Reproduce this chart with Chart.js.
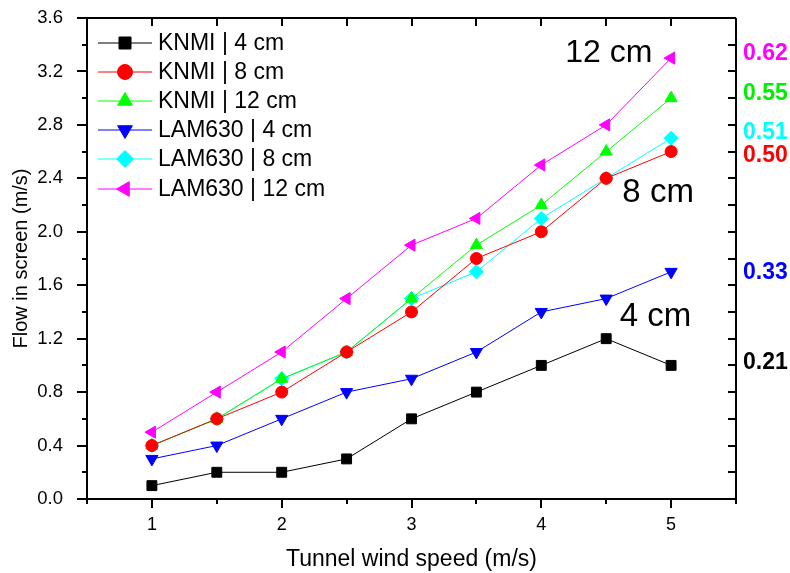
<!DOCTYPE html>
<html>
<head>
<meta charset="utf-8">
<script src="https://cdn.jsdelivr.net/npm/chart.js@4/dist/chart.umd.min.js"></script>
<style>
  body { margin: 0; background: #fff; }
  #wrap { width: 790px; height: 573px; }
</style>
</head>
<body>
<div id="wrap"><canvas id="chart" width="790" height="573"></canvas></div>
<script>
"use strict";

// wind speed in the tunnel (m/s)
const windSpeed = [1, 1.5, 2, 2.5, 3, 3.5, 4, 4.5, 5];

// flow in screen (m/s) per sensor / height
const knmi4 = [0.1, 0.2, 0.2, 0.3, 0.6, 0.8, 1.0, 1.2, 1.0];
const knmi8 = [0.4, 0.6, 0.8, 1.1, 1.4, 1.8, 2.0, 2.4, 2.6];
const knmi12 = [0.4, 0.6, 0.9, 1.1, 1.5, 1.9, 2.2, 2.6, 3.0];
const lam4 = [0.3, 0.4, 0.6, 0.8, 0.9, 1.1, 1.4, 1.5, 1.7];
const lam8 = [0.4, 0.6, 0.9, 1.1, 1.5, 1.7, 2.1, 2.4, 2.7];
const lam12 = [0.5, 0.8, 1.1, 1.5, 1.9, 2.1, 2.5, 2.8, 3.3];

const seriesNames = ["KNMI | 4 cm", "KNMI | 8 cm", "KNMI | 12 cm", "LAM630 | 4 cm", "LAM630 | 8 cm", "LAM630 | 12 cm"];

// slope labels on the right side
const slopeTexts = ["0.62", "0.55", "0.51", "0.50", "0.33", "0.21"];
const slopeAt = [3.34, 3.04, 2.75, 2.58, 1.70, 1.03];
const slopeColors = ["#ff00ff", "#00ee00", "#00ffff", "#ff0000", "#0000ff", "#000000"];

// height labels inside the plot
const heightTexts = ["12 cm", "8 cm", "4 cm"];
const heightAt = [[4.52, 3.34], [4.90, 2.29], [4.88, 1.36]];

const FONT = "Arial, 'Liberation Sans', sans-serif";

const toPoints = (ys) => ys.map((y, i) => ({ x: windSpeed[i], y: y }));

const makeSet = (label, ys, color, style, rotation, radius) => ({
    label: label,
    data: toPoints(ys),
    showLine: true,
    borderColor: color,
    backgroundColor: color,
    borderWidth: 1,
    pointStyle: style,
    pointRotation: rotation,
    pointRadius: radius,
    pointHoverRadius: radius,
    pointBorderWidth: 1,
    pointBackgroundColor: color,
    pointBorderColor: color
});

const datasets = [
    makeSet(seriesNames[0], knmi4, "#000000", "rect", 0, 7),
    makeSet(seriesNames[1], knmi8, "#ff0000", "circle", 0, 6),
    makeSet(seriesNames[2], knmi12, "#00ff00", "triangle", 0, 7),
    makeSet(seriesNames[3], lam4, "#0000ff", "triangle", 180, 7),
    makeSet(seriesNames[4], lam8, "#00ffff", "rectRot", 0, 7),
    makeSet(seriesNames[5], lam12, "#ff00ff", "triangle", -90, 7)
];

// axis frame and tick marks drawn like the original (inside / outside, minor ticks)
const frameTicks = {
    id: "frameTicks",
    afterDraw(chart) {
        const { ctx, chartArea: a, scales } = chart;
        ctx.save();
        ctx.strokeStyle = "#000";
        ctx.lineWidth = 2;
        ctx.beginPath();
        ctx.moveTo(a.left, a.top); ctx.lineTo(a.right, a.top);
        ctx.moveTo(a.right, a.top); ctx.lineTo(a.right, a.bottom + 1);
        ctx.stroke();

        ctx.beginPath();
        scales.x.ticks.forEach(t => {
            const px = Math.round(scales.x.getPixelForValue(t.value));
            const major = Number.isInteger(t.value);
            ctx.moveTo(px, a.bottom); ctx.lineTo(px, a.bottom + (major ? 9 : 5));
            ctx.moveTo(px, a.top); ctx.lineTo(px, a.top + 8);
        });
        scales.y.ticks.forEach((t, i) => {
            const py = Math.round(scales.y.getPixelForValue(t.value));
            const major = i % 2 === 0;
            ctx.moveTo(a.left, py); ctx.lineTo(a.left - (major ? 10 : 5), py);
            ctx.moveTo(a.right, py); ctx.lineTo(a.right - 8, py);
        });
        ctx.stroke();
        ctx.restore();
    }
};

// legend with line + marker, texts in the plot
const notes = {
    id: "notes",
    afterDatasetsDraw(chart) {
        const { ctx, scales } = chart;
        ctx.save();
        chart.data.datasets.forEach((ds, i) => {
            const y = Math.round(43 + i * 29.1);
            ctx.strokeStyle = ds.borderColor;
            ctx.fillStyle = ds.backgroundColor;
            ctx.lineWidth = 1;
            ctx.beginPath();
            ctx.moveTo(98, y); ctx.lineTo(152, y);
            ctx.stroke();
            Chart.helpers.drawPoint(ctx, {
                pointStyle: ds.pointStyle,
                rotation: ds.pointRotation,
                radius: ds.pointRadius + 1.5,
                borderWidth: 1
            }, 125, y);
            ctx.fillStyle = "#000";
            ctx.font = "23px " + FONT;
            ctx.textAlign = "left";
            ctx.textBaseline = "middle";
            ctx.fillText(ds.label, 158, y + 1);
        });

        ctx.textAlign = "center";
        ctx.textBaseline = "middle";
        ctx.fillStyle = "#000";
        heightTexts.forEach((txt, i) => {
            ctx.font = (i === 0 ? "32px " : "33px ") + FONT;
            const px = scales.x.getPixelForValue(heightAt[i][0]);
            const py = scales.y.getPixelForValue(heightAt[i][1]);
            ctx.fillText(txt, px, py);
        });

        ctx.font = "bold 23px " + FONT;
        ctx.textAlign = "left";
        slopeTexts.forEach((txt, i) => {
            ctx.fillStyle = slopeColors[i];
            ctx.fillText(txt, chart.chartArea.right + 7, scales.y.getPixelForValue(slopeAt[i]) + 1);
        });
        ctx.restore();
    }
};

new Chart(document.getElementById("chart"), {
    type: "scatter",
    data: { datasets: datasets },
    options: {
        responsive: false,
        animation: false,
        events: [],
        layout: { padding: { left: 0, right: 54, top: 18, bottom: 0 } },
        plugins: { legend: { display: false }, tooltip: { enabled: false } },
        scales: {
            x: {
                type: "linear",
                min: 0.5, max: 5.5,
                grid: { display: false },
                border: { display: true, color: "#000", width: 2 },
                ticks: {
                    stepSize: 0.5,
                    autoSkip: false,
                    maxRotation: 0,
                    padding: 7,
                    color: "#000",
                    font: { family: FONT, size: 18 },
                    callback: v => Number.isInteger(v) ? String(v) : ""
                },
                title: {
                    display: true,
                    text: "Tunnel wind speed (m/s)",
                    color: "#000",
                    font: { family: FONT, size: 23 },
                    padding: { top: 0, bottom: 0 }
                },
                afterFit: s => {
                    s.height = 74;
                    s.paddingLeft = 0;
                    s.paddingRight = 0;
                }
            },
            y: {
                min: 0, max: 3.6,
                grid: { display: false },
                border: { display: true, color: "#000", width: 2 },
                ticks: {
                    stepSize: 0.2,
                    autoSkip: false,
                    padding: 16,
                    color: "#000",
                    font: { family: FONT, size: 18.5 },
                    callback: (v, i) => i % 2 === 0 ? v.toFixed(1) : ""
                },
                title: {
                    display: true,
                    text: "Flow in screen (m/s)",
                    color: "#000",
                    font: { family: FONT, size: 20 },
                    padding: { top: 9, bottom: 0 }
                },
                afterFit: s => {
                    s.width = 87;
                    s.paddingTop = 0;
                    s.paddingBottom = 0;
                }
            }
        }
    },
    plugins: [frameTicks, notes]
});
</script>
</body>
</html>
